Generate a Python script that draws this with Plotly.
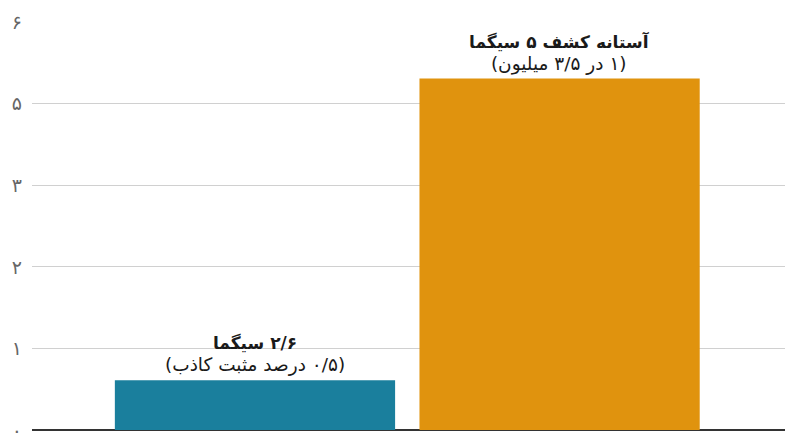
import plotly.graph_objects as go

# values (in axis units)
categories = ["sigma_2_6", "sigma_5"]
values = [0.61, 4.31]
bar_colors = ["#1a7f9d", "#e0930e"]
titles = ["۲/۶ سیگما", "آستانه کشف ۵ سیگما"]
subtitles = ["(۰/۵ درصد مثبت کاذب)", "(۱ در ۳/۵ میلیون)"]

tick_vals = [0, 1, 2, 3, 4, 5]
tick_text = ["۰", "۱", "۲", "۳", "۵", "۶"]


def rtl(s):
    # right-to-left embedding so the Persian lines lay out properly
    return "\u202b" + s + "\u202c"


fig = go.Figure()
fig.add_trace(go.Bar(
    x=categories,
    y=values,
    marker=dict(color=bar_colors, line=dict(width=0)),
    width=0.92,
    hoverinfo="skip",
))

for cat, val, t, s in zip(categories, values, titles, subtitles):
    fig.add_annotation(
        x=cat, y=val, xref="x", yref="y",
        text=f"<b>{rtl(t)}</b><br><span style='font-size:18.5px'>{rtl(s)}</span>",
        showarrow=False, yanchor="bottom", yshift=2,
        font=dict(size=17, color="#1a1a1a", family="DejaVu Sans"),
        align="center",
    )

fig.update_xaxes(
    range=[-0.732, 1.74],
    showticklabels=False,
    showgrid=False,
    zeroline=False,
    showline=False,
    automargin=False,
)
fig.update_yaxes(
    range=[0, 5.003],
    tickvals=tick_vals,
    ticktext=tick_text,
    showgrid=True,
    gridcolor="#d0d0d0",
    gridwidth=1,
    zeroline=True,
    zerolinecolor="#333333",
    zerolinewidth=1.5,
    ticks="",
    ticklabelstandoff=9,
    automargin=False,
    tickfont=dict(size=19, color="#666666", family="DejaVu Sans"),
)

# margins account for the 8px page margin around the plot div
fig.update_layout(
    width=800, height=447,
    margin=dict(l=24, r=23, t=14, b=25),
    paper_bgcolor="white",
    plot_bgcolor="white",
    showlegend=False,
)

fig.write_html("out.html")
